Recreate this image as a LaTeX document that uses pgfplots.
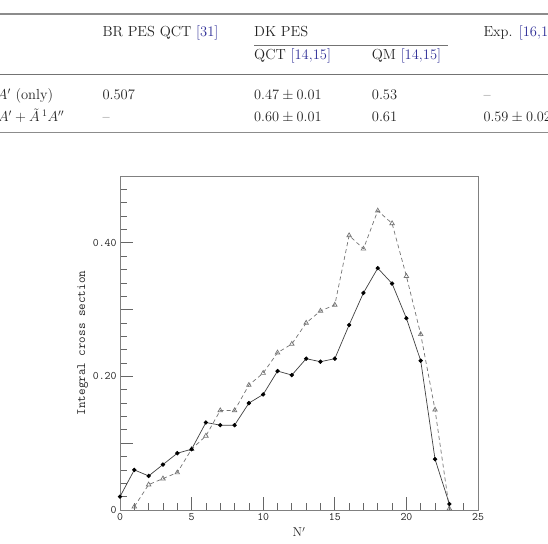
\documentclass[border=0pt]{standalone}
\usepackage{pgfplots}
\pgfplotsset{compat=1.18}
\usepackage{amsmath}
\definecolor{citeblue}{RGB}{45,45,150}
\definecolor{txt}{RGB}{35,35,35}
\begin{document}
\begin{tikzpicture}
\useasboundingbox (0,0) rectangle (548bp,544bp);
\clip (0,0) rectangle (548bp,544bp);
% table rules
\draw[black!45, line width=1.3bp] (-5bp,530bp) -- (560bp,530bp);
\draw[black!55, line width=0.8bp] (254bp,499bp) -- (447.7bp,499bp);
\draw[black!55, line width=0.9bp] (-5bp,470bp) -- (560bp,470bp);
\draw[black!45, line width=1.3bp] (-5bp,411.3bp) -- (560bp,411.3bp);
\begin{scope}[every node/.style={inner sep=0pt, text=txt, font=\fontsize{14.6}{16}\selectfont}]
\node[anchor=base west] at (102.3bp,507.5bp) {BR PES QCT \textcolor{citeblue}{[31]}};
\node[anchor=base west] at (254bp,507.5bp) {DK PES};
\node[anchor=base west] at (483.3bp,507.5bp) {Exp. \textcolor{citeblue}{[16,17]}};
\node[anchor=base west] at (254bp,484bp) {QCT \textcolor{citeblue}{[14,15]}};
\node[anchor=base west] at (371.7bp,484bp) {QM \textcolor{citeblue}{[14,15]}};
\node[anchor=base east] at (53.3bp,444bp) {$\tilde{X}\,{}^1A'$ (only)};
\node[anchor=base west] at (102.3bp,444bp) {0.507};
\node[anchor=base west] at (254bp,444bp) {$0.47 \pm 0.01$};
\node[anchor=base west] at (371.7bp,444bp) {0.53};
\node[anchor=base west] at (483.3bp,444bp) {--};
\node[anchor=base east] at (64.3bp,422.3bp) {$\tilde{X}\,{}^1A' + \tilde{A}\,{}^1A''$};
\node[anchor=base west] at (102.3bp,422.3bp) {--};
\node[anchor=base west] at (254bp,422.3bp) {$0.60 \pm 0.01$};
\node[anchor=base west] at (371.7bp,422.3bp) {0.61};
\node[anchor=base west] at (483.3bp,422.3bp) {$0.59 \pm 0.02$};
\end{scope}
\begin{axis}[
  at={(120bp,34bp)}, anchor=south west,
  scale only axis, width=358bp, height=334bp,
  xmin=0, xmax=25, ymin=0, ymax=0.5,
  axis line style={black!50, line width=0.8bp},
  tick align=inside, xtick pos=lower, ytick pos=left,
  major tick length=13bp, minor tick length=7bp,
  every tick/.style={black!60, line width=0.7bp},
  xtick={0,5,10,15,20,25},
  minor xtick={1,2,3,4,6,7,8,9,11,12,13,14,16,17,18,19,21,22,23,24},
  ytick={0,0.1,0.2,0.3,0.4},
  yticklabels={0,,0.20,,0.40},
  minor ytick={0.02,0.04,0.06,0.08,0.12,0.14,0.16,0.18,0.22,0.24,0.26,0.28,0.32,0.34,0.36,0.38,0.42,0.44,0.46,0.48},
  ticklabel style={font=\ttfamily\fontsize{11.5}{12}\selectfont, text=txt},
  /pgf/number format/assume math mode=true,
  ylabel={Integral cross section},
  ylabel style={font=\ttfamily\fontsize{12.8}{14}\selectfont, text=txt, yshift=-2bp},
  xlabel={N$'$},
  xlabel style={font=\fontsize{13}{14}\selectfont, text=txt},
]
\addplot[black!55, line width=0.7bp, dash pattern=on 4bp off 3bp, mark=triangle, mark size=2.6bp, mark options={solid, black!55}] coordinates {
(1,0.005) (2,0.038) (3,0.047) (4,0.056) (5,0.091) (6,0.111) (7,0.149) (8,0.149)
(9,0.187) (10,0.205) (11,0.2355) (12,0.2485) (13,0.280) (14,0.298) (15,0.307)
(16,0.411) (17,0.391) (18,0.448) (19,0.429) (20,0.350) (21,0.263) (22,0.150) (23,0.002)
};
\addplot[black!75, line width=0.7bp, mark=*, mark size=1.8bp, mark options={fill=black, draw=black}] coordinates {
(0,0.020) (1,0.060) (2,0.051) (3,0.068) (4,0.085) (5,0.091) (6,0.131) (7,0.127)
(8,0.127) (9,0.160) (10,0.173) (11,0.208) (12,0.202) (13,0.2265) (14,0.222)
(15,0.2265) (16,0.277) (17,0.325) (18,0.362) (19,0.339) (20,0.287) (21,0.2235)
(22,0.076) (23,0.009)
};
\end{axis}
\end{tikzpicture}
\end{document}
